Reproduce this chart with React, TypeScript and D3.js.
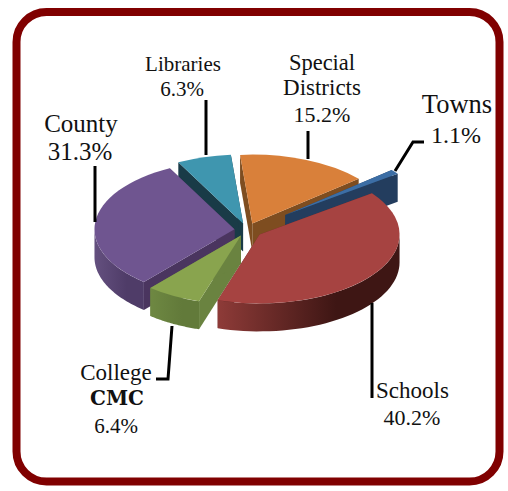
import React from "react";
import * as d3 from "d3";

// Share of the total, clockwise from the top of the pie.
const categories = ["Special Districts", "Towns", "Schools", "College CMC", "County", "Libraries"];
const shares = [15.2, 1.1, 40.2, 6.4, 31.3, 6.3];
const explosion = [0.1, 0.35, 0.11, 0.09, 0.09, 0.1];
const topColors = ["#D9803A", "#3C6EA5", "#A64341", "#89A44E", "#6F5590", "#3F96AF"];
const cutColors = ["#7E4D20", "#233D5E", "#6A2A28", "#6A8340", "#4A355F", "#193B47"];
const wallFrom = ["#8C5526", "#2A4870", "#8E3B38", "#6E8842", "#64507F", "#225262"];
const wallTo = ["#6E421B", "#233D5E", "#3E1614", "#627A3A", "#4F3C68", "#193B47"];
// Painter's order, back of the pie first.
const paintOrder = [5, 0, 1, 4, 3, 2];

const WIDTH = 508;
const HEIGHT = 491;
const CX = 247;
const CY = 230;
const RX = 140;
const RY = 69;
const DEPTH = 28;
const FRAME = "#800000";
const SERIF = "'Liberation Serif', 'Times New Roman', serif";

const degrees = (d: number) => (d * Math.PI) / 180;

const pie = d3
  .pie<number>()
  .sort(null)
  .startAngle(degrees(-5))
  .endAngle(degrees(355));
const arcs = pie(shares);

const topArc = d3.arc<d3.PieArcDatum<number>>().innerRadius(0).outerRadius(RX);

const rimX = (a: number) => Math.sin(a) * RX;
const rimY = (a: number) => -Math.cos(a) * RY;

// Outer wall of a slice: only the part of the rim on the viewer's side.
function wallPath(start: number, end: number) {
  const from = Math.max(start, Math.PI / 2);
  const to = Math.min(end, (3 * Math.PI) / 2);
  if (from >= to) return null;
  const steps = d3.range(0, 41).map((i) => from + ((to - from) * i) / 40);
  return d3
    .area<number>()
    .x(rimX)
    .y0(rimY)
    .y1((a) => rimY(a) + DEPTH)(steps);
}

// Flat face exposed by pulling a slice away from the centre.
function cutPath(a: number) {
  const line = d3.line();
  const x = rimX(a);
  const y = rimY(a);
  return (
    line([
      [0, 0],
      [x, y],
      [x, y + DEPTH],
      [0, DEPTH],
    ]) + "Z"
  );
}

type Label = { text: string; x: number; y: number; size: number; bold?: boolean; family?: string };

const labels: Label[] = [
  { text: "County", x: 81, y: 132, size: 25 },
  { text: "31.3%", x: 80, y: 160, size: 25 },
  { text: "Libraries", x: 183, y: 71, size: 21 },
  { text: "6.3%", x: 182, y: 96, size: 21 },
  { text: "Special", x: 322, y: 70, size: 22.5 },
  { text: "Districts", x: 322, y: 95, size: 23 },
  { text: "15.2%", x: 322, y: 122, size: 22 },
  { text: "Towns", x: 457, y: 113, size: 26.5 },
  { text: "1.1%", x: 456, y: 143, size: 24 },
  { text: "College", x: 116, y: 380, size: 23 },
  { text: "CMC", x: 117, y: 405, size: 20, bold: true, family: "'DejaVu Serif', serif" },
  { text: "6.4%", x: 116, y: 433, size: 21 },
  { text: "Schools", x: 412.5, y: 398, size: 23 },
  { text: "40.2%", x: 412, y: 425, size: 22 },
];

const leaders = [
  [[95, 166], [95, 222]],
  [[206, 100], [206, 155]],
  [[308, 131], [308, 159]],
  [[395, 171], [413, 142], [424, 142]],
  [[172, 326], [168, 379], [156, 379]],
  [[372, 303], [372, 398]],
] as [number, number][][];

export default function App() {
  const line = d3.line();
  return (
    <svg
      width={WIDTH}
      height={HEIGHT}
      viewBox={`0 0 ${WIDTH} ${HEIGHT}`}
      style={{ position: "absolute", left: 0, top: 0, background: "#fff" }}
    >
      <defs>
        {arcs.map((d, i) => {
          const from = Math.max(d.startAngle, Math.PI / 2);
          const to = Math.min(d.endAngle, (3 * Math.PI) / 2);
          return (
            <linearGradient
              key={categories[i]}
              id={`wall-${i}`}
              gradientUnits="userSpaceOnUse"
              x1={rimX(to)}
              x2={rimX(from)}
              y1={0}
              y2={0}
            >
              <stop offset="0" stopColor={wallFrom[i]} />
              <stop offset="0.65" stopColor={wallTo[i]} />
              <stop offset="1" stopColor={wallTo[i]} />
            </linearGradient>
          );
        })}
      </defs>

      <rect x={16.5} y={12} width={483} height={469.5} rx={30} fill="#fff" stroke={FRAME} strokeWidth={8} />

      {paintOrder.map((i) => {
        const d = arcs[i];
        const mid = (d.startAngle + d.endAngle) / 2;
        const dx = rimX(mid) * explosion[i];
        const dy = rimY(mid) * explosion[i];
        const wall = wallPath(d.startAngle, d.endAngle);
        return (
          <g key={categories[i]} transform={`translate(${CX + dx},${CY + dy})`}>
            <path d={cutPath(d.startAngle)} fill={cutColors[i]} />
            <path d={cutPath(d.endAngle)} fill={cutColors[i]} />
            {wall && <path d={wall} fill={`url(#wall-${i})`} />}
            <path d={topArc(d) as string} transform={`scale(1,${RY / RX})`} fill={topColors[i]} />
          </g>
        );
      })}

      {leaders.map((pts, i) => (
        <path key={i} d={line(pts) as string} fill="none" stroke="#000" strokeWidth={3} />
      ))}

      {labels.map((l) => (
        <text
          key={l.text}
          x={l.x}
          y={l.y}
          textAnchor="middle"
          fontFamily={l.family ?? SERIF}
          fontSize={l.size}
          fontWeight={l.bold ? 700 : 400}
          fill="#111"
        >
          {l.text}
        </text>
      ))}
    </svg>
  );
}
